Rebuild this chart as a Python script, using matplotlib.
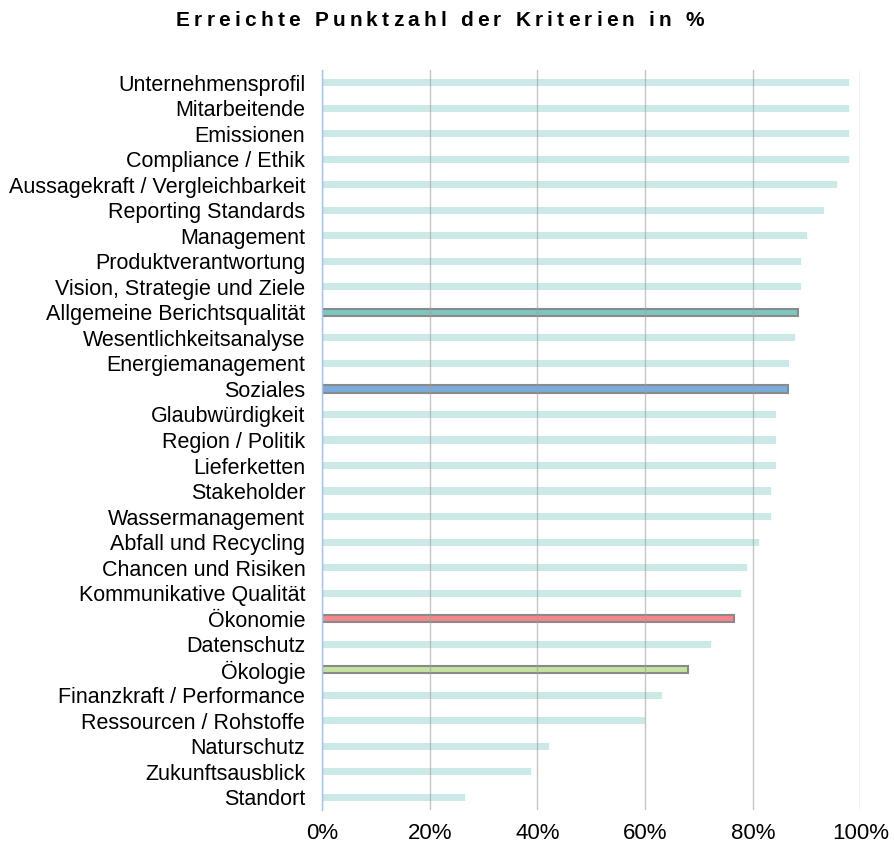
import matplotlib
matplotlib.use("Agg")
import matplotlib.pyplot as plt
import numpy as np

plt.rcParams['font.family'] = ['Liberation Sans', 'DejaVu Sans']

categories = [
    "Unternehmensprofil", "Mitarbeitende", "Emissionen", "Compliance / Ethik",
    "Aussagekraft / Vergleichbarkeit", "Reporting Standards", "Management",
    "Produktverantwortung", "Vision, Strategie und Ziele", "Allgemeine Berichtsqualität",
    "Wesentlichkeitsanalyse", "Energiemanagement", "Soziales", "Glaubwürdigkeit",
    "Region / Politik", "Lieferketten", "Stakeholder", "Wassermanagement",
    "Abfall und Recycling", "Chancen und Risiken", "Kommunikative Qualität",
    "Ökonomie", "Datenschutz", "Ökologie", "Finanzkraft / Performance",
    "Ressourcen / Rohstoffe", "Naturschutz", "Zukunftsausblick", "Standort",
]
values = [
    97.8, 97.8, 97.8, 97.8, 95.7, 93.3, 90.0, 88.9, 88.9, 88.4,
    87.8, 86.7, 86.6, 84.4, 84.4, 84.4, 83.3, 83.3, 81.1, 78.9,
    77.8, 76.6, 72.2, 67.9, 63.2, 60.0, 42.1, 38.9, 26.6,
]
highlight_colors = {
    "Allgemeine Berichtsqualität": "#7dc8be",
    "Soziales": "#7cacdc",
    "Ökonomie": "#f4868c",
    "Ökologie": "#c5e3a0",
}
xticks = [0, 20, 40, 60, 80, 100]
xtick_labels = ["0%", "20%", "40%", "60%", "80%", "100%"]
title = "Erreichte Punktzahl der Kriterien in %"

fig = plt.figure(figsize=(8.94, 8.49), dpi=100)
ax = fig.add_axes([0.3602, 0.0459, 0.6023, 0.8717])

y = np.arange(len(categories))
for yi, cat, v in zip(y, categories, values):
    if cat in highlight_colors:
        ax.barh(yi, v, height=0.28, color=highlight_colors[cat], edgecolor="#8a8a8a",
                linewidth=1.5, zorder=2)
    else:
        ax.barh(yi, v, height=0.28, color="#cbe9e6", edgecolor="none", zorder=2)

ax.set_ylim(len(categories) - 0.5, -0.5)
ax.set_xlim(0, 100)
ax.set_yticks(y)
ax.set_yticklabels(categories, fontsize=15.5)
ax.set_xticks(xticks)
ax.set_xticklabels(xtick_labels, fontsize=16)
ax.tick_params(axis='y', length=0, pad=12)
ax.tick_params(axis='x', length=0, pad=9)

ax.xaxis.grid(True, color="#a0a0a0", alpha=0.6, linewidth=1.0, zorder=3)
ax.set_axisbelow(False)
for s in ["top", "right", "bottom"]:
    ax.spines[s].set_visible(False)
ax.spines["left"].set_color("#a9c4e8")
ax.spines["left"].set_linewidth(1.0)
ax.spines["left"].set_zorder(4)

# Letter-spaced bold title
fig.canvas.draw()
renderer = fig.canvas.get_renderer()
fs = 15
target_width_px = 528.0
widths = []
tmp = []
for ch in title:
    t = fig.text(0, 0, ch if ch != " " else "\u00a0", fontsize=fs, fontweight="bold")
    bb = t.get_window_extent(renderer)
    widths.append(bb.width)
    tmp.append(t)
for t in tmp:
    t.remove()
spacing_px = (target_width_px - sum(widths)) / (len(title) - 1)
W = fig.bbox.width
H = fig.bbox.height
x0 = 440.0 - target_width_px / 2.0
ycen = H - 21
xpos = x0
for ch, w in zip(title, widths):
    if ch != " ":
        fig.text(xpos / W, ycen / H, ch, fontsize=fs, fontweight="bold",
                 ha="left", va="center")
    xpos += w + spacing_px

fig.savefig("out.png", dpi=100)
